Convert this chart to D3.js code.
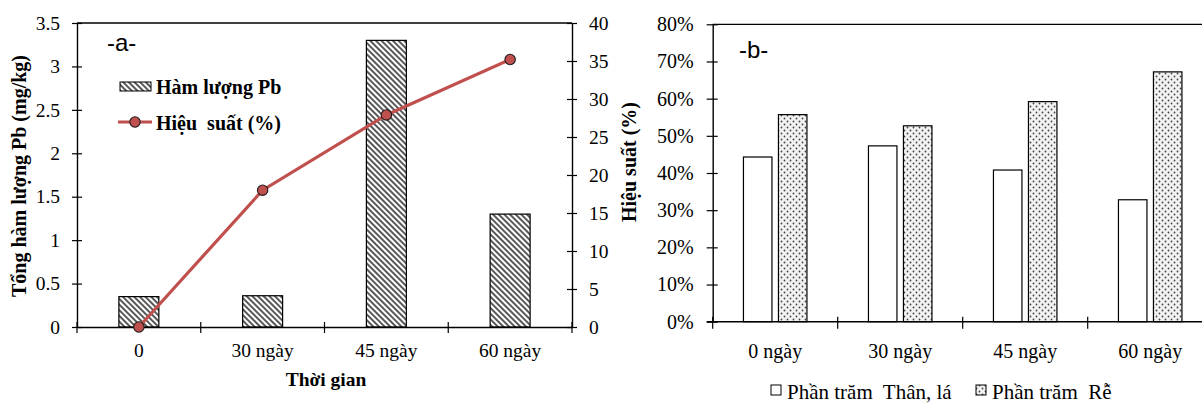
<!DOCTYPE html>
<html><head><meta charset="utf-8">
<script src="https://cdn.jsdelivr.net/npm/d3@7"></script>
<style>
body{margin:0;background:#fff;}
svg{display:block;}
</style></head>
<body><svg id="c" width="1202" height="405" font-family="Liberation Serif"></svg>
<script>
// Panel a data
const catsA = ["0", "30 ngày", "45 ngày", "60 ngày"];
const pbContent = [0.35, 0.36, 3.3, 1.3];
const efficiency = [0, 18, 27.9, 35.2];
const ticksLeftA = [0, 0.5, 1, 1.5, 2, 2.5, 3, 3.5];
const ticksRightA = [0, 5, 10, 15, 20, 25, 30, 35, 40];
// Panel b data
const catsB = ["0 ngày", "30 ngày", "45 ngày", "60 ngày"];
const pctStemLeaf = [0.443, 0.473, 0.408, 0.328];
const pctRoot = [0.557, 0.527, 0.592, 0.672];
const ticksB = [0, 0.1, 0.2, 0.3, 0.4, 0.5, 0.6, 0.7, 0.8];

const SERIF = "Liberation Serif", SANS = "Liberation Sans";
const svg = d3.select("#c");
const defs = svg.append("defs");
const hatch = defs.append("pattern").attr("id","hatch").attr("patternUnits","userSpaceOnUse")
  .attr("width",4).attr("height",4).attr("patternTransform","rotate(-45)");
hatch.append("rect").attr("width",4).attr("height",4).attr("fill","#fff");
hatch.append("line").attr("x1",1).attr("y1",-1).attr("x2",1).attr("y2",5)
  .attr("stroke","#2e2e2e").attr("stroke-width",1.6);
const dots = defs.append("pattern").attr("id","dots").attr("patternUnits","userSpaceOnUse")
  .attr("width",6).attr("height",6);
dots.append("rect").attr("width",6).attr("height",6).attr("fill","#f2f2f2");
dots.append("circle").attr("cx",1.5).attr("cy",1.5).attr("r",0.9).attr("fill","#444");
dots.append("circle").attr("cx",4.5).attr("cy",4.5).attr("r",0.9).attr("fill","#444");

function styleText(sel, size){ sel.attr("font-family",SERIF).attr("font-size",size).attr("fill","#000"); }

// ---------- Panel a ----------
const aL = 77, aR = 572, aT = 23, aB = 327;
const xA = d3.scaleBand().domain(catsA).range([aL, aR]);
const yA = d3.scaleLinear().domain([0, 3.5]).range([aB, aT]);
const y2A = d3.scaleLinear().domain([0, 40]).range([aB, aT]);
const ga = svg.append("g");
ga.append("line").attr("x1",aL).attr("x2",aR).attr("y1",aT).attr("y2",aT).attr("stroke","#000").attr("stroke-width",1.3);
const bwA = xA.bandwidth()*0.323;
ga.selectAll("rect.pb").data(pbContent).join("rect")
  .attr("x",(d,i)=>xA(catsA[i])+xA.bandwidth()/2-bwA/2)
  .attr("y",d=>yA(d)).attr("width",bwA).attr("height",d=>aB-yA(d))
  .attr("fill","url(#hatch)").attr("stroke","#000").attr("stroke-width",1.2);
const axL = d3.axisLeft(yA).tickValues(ticksLeftA).tickFormat(d=>d).tickSizeInner(5).tickSizeOuter(0);
const gL = ga.append("g").attr("transform",`translate(${aL},0)`).call(axL);
const axR = d3.axisRight(y2A).tickValues(ticksRightA).tickFormat(d=>d).tickSizeInner(5).tickSizeOuter(0);
const gR = ga.append("g").attr("transform",`translate(${aR},0)`).call(axR);
const axB = d3.axisBottom(xA).tickSizeInner(6).tickSizeOuter(0);
const gB = ga.append("g").attr("transform",`translate(0,${aB})`).call(axB);
[gL,gR,gB].forEach(g=>{g.attr("font-family",SERIF);
  g.select(".domain").attr("stroke","#000").attr("stroke-width",1.4);
  g.selectAll(".tick line").attr("stroke","#000").attr("stroke-width",1.2);
  styleText(g.selectAll("text"),19.5);});
gL.selectAll(".tick line").attr("x1",5).attr("x2",-5);
gL.selectAll(".tick text").attr("x",-17);
gR.selectAll(".tick line").attr("x1",-5).attr("x2",5);
gR.selectAll(".tick text").attr("x",17);
gB.selectAll(".tick").remove();
const bndA = d3.range(catsA.length+1).map(i=>aL+i*xA.bandwidth());
gB.selectAll("line.bt").data(bndA).join("line").attr("class","bt")
  .attr("x1",d=>d).attr("x2",d=>d).attr("y1",-5).attr("y2",6).attr("stroke","#000").attr("stroke-width",1.2);
gB.selectAll("text.xl").data(catsA).join("text").attr("class","xl")
  .attr("x",d=>xA(d)+xA.bandwidth()/2).attr("y",30).attr("text-anchor","middle").text(d=>d)
  .call(s=>styleText(s,19.5));
const lineA = d3.line().x((d,i)=>xA(catsA[i])+xA.bandwidth()/2).y(d=>y2A(d));
ga.append("path").datum(efficiency).attr("d",lineA).attr("fill","none").attr("stroke","#c0504d").attr("stroke-width",3.2);
ga.selectAll("circle.pt").data(efficiency).join("circle")
  .attr("cx",(d,i)=>xA(catsA[i])+xA.bandwidth()/2).attr("cy",d=>y2A(d)).attr("r",5.2)
  .attr("fill","#c0504d").attr("stroke","#1a1a1a").attr("stroke-width",1.1);
ga.append("text").attr("transform","translate(26,176) rotate(-90)").attr("text-anchor","middle")
  .attr("font-weight","bold").call(s=>styleText(s,20)).text("Tổng hàm lượng Pb (mg/kg)");
ga.append("text").attr("transform","translate(636,162) rotate(-90)").attr("text-anchor","middle")
  .attr("font-weight","bold").call(s=>styleText(s,20)).text("Hiệu suất (%)");
ga.append("text").attr("x",326).attr("y",386).attr("text-anchor","middle")
  .attr("font-weight","bold").call(s=>styleText(s,19.5)).text("Thời gian");
ga.append("text").attr("x",107).attr("y",51).attr("font-family",SANS).attr("font-size",24).attr("fill","#000").text("-a-");
// legend a
ga.append("rect").attr("x",120).attr("y",82).attr("width",31).attr("height",9).attr("fill","url(#hatch)").attr("stroke","#000").attr("stroke-width",1);
ga.append("text").attr("x",156).attr("y",94).attr("font-weight","bold").call(s=>styleText(s,20)).text("Hàm lượng Pb");
ga.append("line").attr("x1",118).attr("x2",152).attr("y1",122).attr("y2",122).attr("stroke","#c0504d").attr("stroke-width",3.2);
ga.append("circle").attr("cx",135).attr("cy",122).attr("r",5.2).attr("fill","#c0504d").attr("stroke","#1a1a1a").attr("stroke-width",1.1);
ga.append("text").attr("x",156).attr("y",130).attr("font-weight","bold").attr("xml:space","preserve").call(s=>styleText(s,20)).text("Hiệu  suất (%)");

// ---------- Panel b ----------
const bL = 712.7, bT = 24.3, bB = 321.7, bandB = 125;
const xB = d3.scaleBand().domain(catsB).range([bL, bL+bandB*catsB.length]);
const yB = d3.scaleLinear().domain([0, 0.8]).range([bB, bT]);
const gb = svg.append("g");
gb.append("line").attr("x1",bL).attr("x2",1202).attr("y1",bT).attr("y2",bT).attr("stroke","#000").attr("stroke-width",1.3);
const bw = xB.bandwidth()*0.228, off = xB.bandwidth()*0.14;
gb.selectAll("rect.s").data(pctStemLeaf).join("rect")
  .attr("x",(d,i)=>xB(catsB[i])+xB.bandwidth()/2-off-bw/2).attr("y",d=>yB(d))
  .attr("width",bw).attr("height",d=>bB-yB(d)).attr("fill","#fff").attr("stroke","#000").attr("stroke-width",1.2);
gb.selectAll("rect.r").data(pctRoot).join("rect")
  .attr("x",(d,i)=>xB(catsB[i])+xB.bandwidth()/2+off-bw/2).attr("y",d=>yB(d))
  .attr("width",bw).attr("height",d=>bB-yB(d)).attr("fill","url(#dots)").attr("stroke","#000").attr("stroke-width",1.2);
const axLB = d3.axisLeft(yB).tickValues(ticksB).tickFormat(d3.format(".0%")).tickSizeInner(5).tickSizeOuter(0);
const gLB = gb.append("g").attr("transform",`translate(${bL},0)`).call(axLB).attr("font-family",SERIF);
gLB.select(".domain").attr("stroke","#000").attr("stroke-width",1.4);
gLB.selectAll(".tick line").attr("stroke","#000").attr("stroke-width",1.2).attr("x1",5).attr("x2",-6);
gLB.selectAll(".tick text").attr("x",-19).call(s=>styleText(s,20));
const gBB = gb.append("g").attr("transform",`translate(0,${bB})`);
gBB.append("line").attr("x1",bL-6).attr("x2",1202).attr("y1",0).attr("y2",0).attr("stroke","#000").attr("stroke-width",1.4);
const bndB = d3.range(catsB.length).map(i=>bL+i*xB.bandwidth());
gBB.selectAll("line.bt").data(bndB).join("line")
  .attr("x1",d=>d).attr("x2",d=>d).attr("y1",-5).attr("y2",7).attr("stroke","#000").attr("stroke-width",1.2);
gBB.selectAll("text.xl").data(catsB).join("text")
  .attr("x",d=>xB(d)+xB.bandwidth()/2).attr("y",36).attr("text-anchor","middle").call(s=>styleText(s,20)).text(d=>d);
gb.append("text").attr("x",739).attr("y",58).attr("font-family",SANS).attr("font-size",24).attr("fill","#000").text("-b-");
// legend b
gb.append("rect").attr("x",771).attr("y",385).attr("width",10).attr("height",10).attr("fill","#fff").attr("stroke","#000").attr("stroke-width",1);
gb.append("text").attr("x",787).attr("y",399).attr("xml:space","preserve").call(s=>styleText(s,21)).text("Phần trăm  Thân, lá");
gb.append("rect").attr("x",976).attr("y",385).attr("width",10).attr("height",10).attr("fill","url(#dots)").attr("stroke","#000").attr("stroke-width",1);
gb.append("text").attr("x",992).attr("y",399).attr("xml:space","preserve").call(s=>styleText(s,21)).text("Phần trăm  Rễ");
</script></body></html>
